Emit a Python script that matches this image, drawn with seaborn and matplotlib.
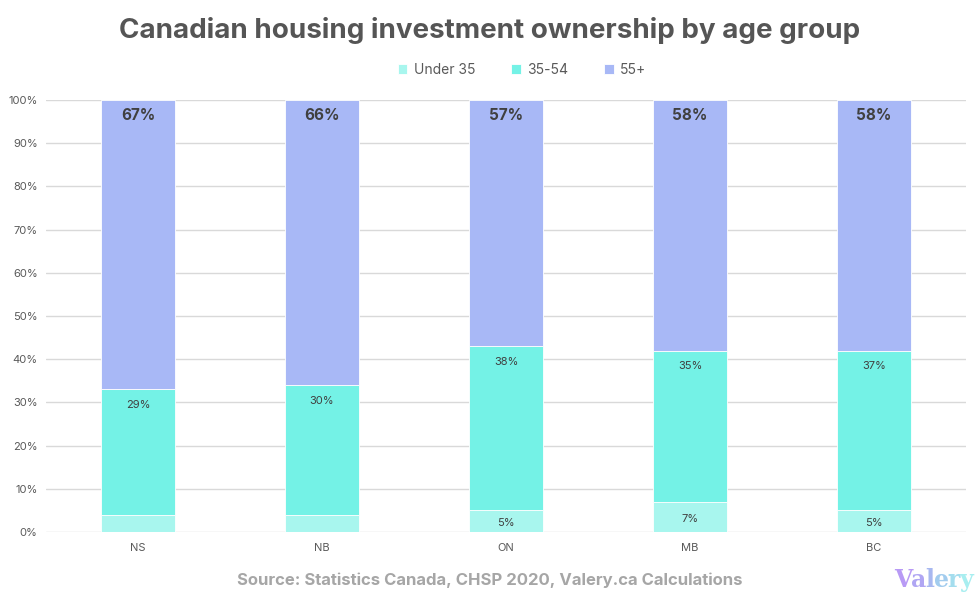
import matplotlib
matplotlib.use("Agg")
import matplotlib.pyplot as plt
import seaborn as sns
import pandas as pd
import numpy as np

provinces = ["NS", "NB", "ON", "MB", "BC"]
under35 = [4, 4, 5, 7, 5]
age35_54 = [29, 30, 38, 35, 37]
age55 = [67, 66, 57, 58, 58]
series_names = ["Under 35", "35-54", "55+"]
colors = ["#A8F6EE", "#74F2E6", "#A8B8F6"]
y_ticks = list(range(0, 101, 10))

sns.set_theme(style="white")
plt.rcParams["font.family"] = ["Inter", "DejaVu Sans"]

fig = plt.figure(figsize=(9.8, 6.03), dpi=100)
ax = fig.add_axes([46/980, 1-532/603, 920/980, 432/603])

df = pd.DataFrame({"province": provinces, "u35": under35, "m": age35_54, "o": age55})
bottoms = np.zeros(len(provinces))
layers = [df["u35"].values, df["m"].values, df["o"].values]
for vals, name, col in zip(layers, series_names, colors):
    sns.barplot(x=df["province"], y=vals, bottom=bottoms, color=col, width=0.4,
                ax=ax, label=name, edgecolor="white", linewidth=0.6, saturation=1,
                zorder=3)
    bottoms = bottoms + vals

# labels
for i, p in enumerate(provinces):
    u, m, o = under35[i], age35_54[i], age55[i]
    if u >= 5:
        ax.text(i, u / 2 - 0.4, f"{u}%", ha="center", va="center", fontsize=8, color="#404040", zorder=5)
    ax.text(i, u + m - 3.6, f"{m}%", ha="center", va="center", fontsize=8, color="#404040", zorder=5)
    ax.text(i, 96.4, f"{o}%", ha="center", va="center", fontsize=11, fontweight="bold",
            color="#404040", zorder=5)

ax.set_ylim(0, 100)
ax.set_xlim(-0.5, len(provinces) - 0.5)
ax.set_yticks(y_ticks)
ax.set_yticklabels([f"{t}%" for t in y_ticks], fontsize=8, color="#595959")
ax.tick_params(axis="x", labelsize=8, labelcolor="#595959", length=0, pad=8)
ax.tick_params(axis="y", length=0, pad=6)
ax.set_xlabel("")
ax.set_ylabel("")
ax.yaxis.grid(True, color="#D9D9D9", linewidth=1, zorder=0)
ax.set_axisbelow(True)
for s in ax.spines.values():
    s.set_visible(False)

if ax.get_legend() is not None:
    ax.get_legend().remove()
handles, labels = ax.get_legend_handles_labels()
fig.legend(handles, labels, loc="center", bbox_to_anchor=(522/980, 1 - 70/603), ncol=3,
           frameon=False, fontsize=10, handlelength=0.7, handleheight=0.7,
           columnspacing=2.6, handletextpad=0.45, labelcolor="#595959")

fig.text(0.5, 1 - 30/603, "Canadian housing investment ownership by age group",
         ha="center", va="center", fontsize=20, fontweight="bold", color="#555555")
fig.text(490/980, 1 - 580/603, "Source: Statistics Canada, CHSP 2020, Valery.ca Calculations",
         ha="center", va="center", fontsize=12, fontweight="bold", color="#A6A6A6")

# logo
logo = "Valery"
logo_cols = ["#B89AF5", "#B0A6F3", "#A8B8F0", "#A2CCEE", "#A4DDEE", "#A8EEF0"]
x0 = 894
for ch, c in zip(logo, logo_cols):
    t = fig.text(x0/980, 1 - 580/603, ch, ha="left", va="center", fontsize=17,
                 fontweight="bold", color=c, family="DejaVu Serif")
    fig.canvas.draw()
    bb = t.get_window_extent()
    x0 += bb.width - 1

fig.savefig("out.png", dpi=100)
